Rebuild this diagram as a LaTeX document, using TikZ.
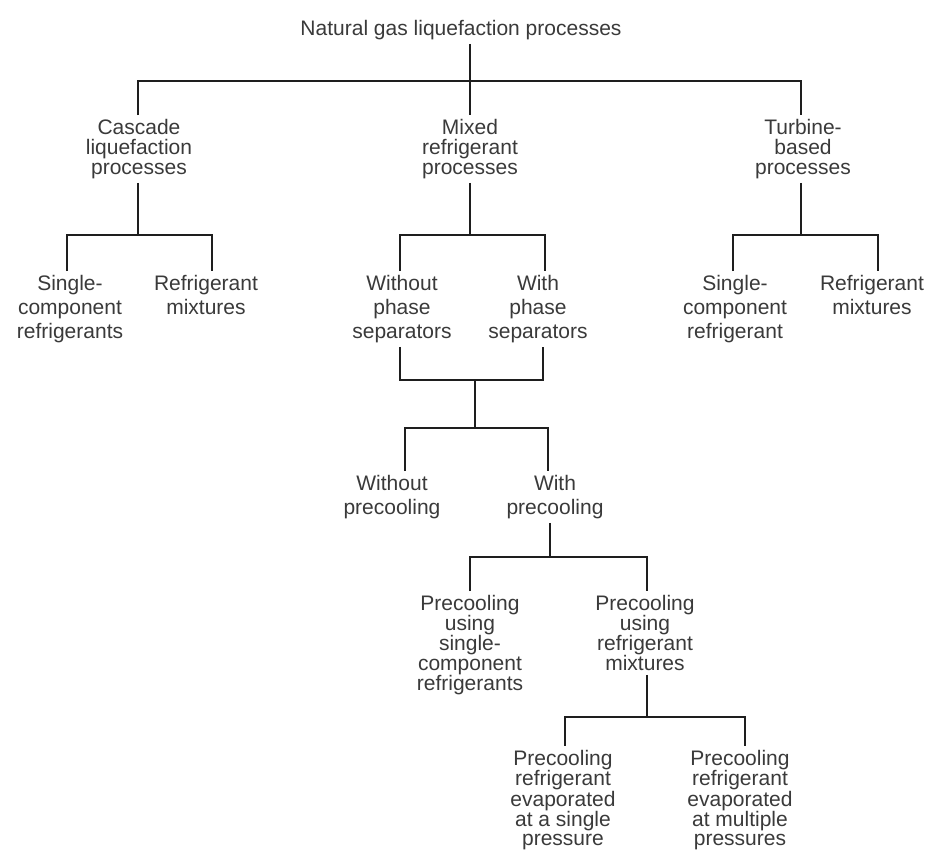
\documentclass[tikz,border=0pt]{standalone}
\usepackage{fontspec}
\setmainfont{Liberation Sans}
\usepackage{tikz}
\definecolor{ink}{HTML}{3A3A3A}
\definecolor{wire}{HTML}{1E1E1E}

\begin{document}
\begin{tikzpicture}[x=1pt, y=-1pt, every node/.style={text=ink}, lbl/.style={align=center, inner sep=4pt, font=\fontsize{21}{20}\selectfont}, loose/.style={lbl, font=\fontsize{21}{24}\selectfont}, tight/.style={lbl, font=\fontsize{21}{19}\selectfont}, line/.style={draw=wire, line width=1.2pt}]
\useasboundingbox[fill=white] (0,0) rectangle (927,850);
% top and first split
\node[lbl] (root) at (461,30) {Natural gas liquefaction processes};
\node[lbl] (cascade) at (139,149) {Cascade\\liquefaction\\processes};
\node[lbl] (mixed) at (470,149) {Mixed\\refrigerant\\processes};
\node[lbl] (turbine) at (803,149) {Turbine-\\based\\processes};
\coordinate (top) at (470,81);
\draw[line] ([xshift=9pt]root.south) -- (top);
\draw[line] ([xshift=-1pt]cascade.north) |- (top) -| ([xshift=-2pt]turbine.north);
\draw[line] (top) -- (mixed.north);
% second level
\node[loose] (single1) at (70,309) {Single-\\component\\refrigerants};
\node[loose] (mix1) at (206,295) {Refrigerant\\mixtures};
\node[loose] (nosep) at (402,309) {Without\\phase\\separators};
\node[loose] (withsep) at (538,309) {With\\phase\\separators};
\node[loose] (single2) at (735,309) {Single-\\component\\refrigerant};
\node[loose] (mix2) at (872,295) {Refrigerant\\mixtures};
\coordinate (casc) at (138,235);
\coordinate (mixs) at (470,235);
\coordinate (turb) at (801,235);
\draw[line] ([xshift=-1pt]cascade.south) -- (casc);
\draw[line] ([xshift=-3pt]single1.north) |- (casc) -| ([xshift=6pt]mix1.north);
\draw[line] (mixed.south) -- (mixs);
\draw[line] ([xshift=-2pt]nosep.north) |- (mixs) -| ([xshift=7pt]withsep.north);
\draw[line] ([xshift=-2pt]turbine.south) -- (turb);
\draw[line] ([xshift=-2pt]single2.north) |- (turb) -| ([xshift=6pt]mix2.north);
% precooling
\node[loose] (noprecool) at (392,497) {Without\\precooling};
\node[loose] (precool) at (555,497) {With\\precooling};
\coordinate (sep) at (475,380);
\coordinate (pre) at (475,428);
\draw[line] ([xshift=-2pt]nosep.south) |- (sep) -| ([xshift=5pt]withsep.south);
\draw[line] (sep) -- (pre);
\draw[line] ([xshift=13pt]noprecool.north) |- (pre) -| ([xshift=-7pt]precool.north);
\node[lbl] (pcsingle) at (470,645) {Precooling\\using\\single-\\component\\refrigerants};
\node[lbl] (pcmix) at (645,633) {Precooling\\using\\refrigerant\\mixtures};
\coordinate (pcs) at (550,557);
\draw[line] ([xshift=-5pt]precool.south) -- (pcs);
\draw[line] (pcsingle.north) |- (pcs) -| ([xshift=2pt]pcmix.north);
% evaporation pressure
\node[tight] (evsingle) at (563,800) {Precooling\\refrigerant\\evaporated\\at a single\\pressure};
\node[tight] (evmulti) at (740,800) {Precooling\\refrigerant\\evaporated\\at multiple\\pressures};
\coordinate (evp) at (647,717);
\draw[line] ([xshift=2pt]pcmix.south) -- (evp);
\draw[line] ([xshift=2pt]evsingle.north) |- (evp) -| ([xshift=5pt]evmulti.north);
\end{tikzpicture}
\end{document}
